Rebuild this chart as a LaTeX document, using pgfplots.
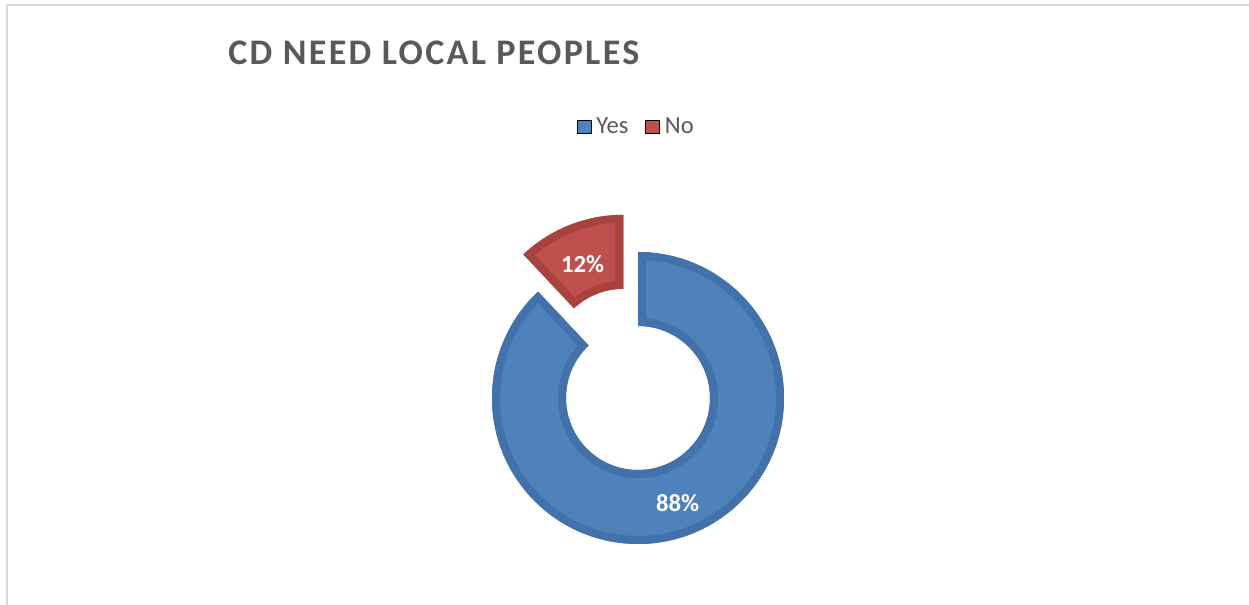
\documentclass[border=0pt]{standalone}
\usepackage{pgfplots}
\pgfplotsset{compat=1.18}
\usepackage{pgfplotstable}
\usepackage{fontspec}
\setmainfont{Carlito}
\newfontfamily\titlefont[LetterSpace=6.4]{Carlito}
\definecolor{yesfill}{HTML}{4F81BD}
\definecolor{yesedge}{HTML}{4371A9}
\definecolor{nofill}{HTML}{C0504D}
\definecolor{noedge}{HTML}{A8423F}
\definecolor{txtgray}{HTML}{595959}
\definecolor{framegray}{HTML}{D9D9D9}

\pgfplotstableread{
label value
Yes 88
No 12
}\piedata

% ring segment: cx, cy, start angle, end angle, back angle (end+180)
\newcommand\ringpath[5]{(axis cs:#1,#2) ++(#3:73pt) arc[start angle=#3,end angle=#4,radius=73pt] -- ++(#5:37pt) arc[start angle=#4,end angle=#3,radius=36pt] -- cycle}

\begin{document}
\begin{tikzpicture}
\useasboundingbox (0,0) rectangle (624.5pt,302.5pt);
\pgfplotstablegetelem{0}{value}\of\piedata \let\vYes\pgfplotsretval
\pgfplotstablegetelem{1}{value}\of\piedata \let\vNo\pgfplotsretval
\pgfmathsetmacro\aA{90}
\pgfmathsetmacro\aB{90-3.6*\vYes}
\pgfmathsetmacro\aBb{\aB+180}
\pgfmathsetmacro\aC{\aB-3.6*\vNo}
\pgfmathsetmacro\aCb{\aC+180}
\pgfmathsetmacro\aMid{(\aB+\aC)/2}
\pgfmathsetmacro\ncx{638+40*cos(\aMid)}
\pgfmathsetmacro\ncy{207+40*sin(\aMid)}
\begin{axis}[
  at={(0,0)}, anchor=south west,
  x=0.5pt, y=0.5pt,
  xmin=0, xmax=1249, ymin=0, ymax=605,
  enlargelimits=false, hide axis, clip=false,
  legend style={at={(axis cs:577,478)}, anchor=west, draw=none, fill=none,
    inner sep=0pt, outer sep=0pt, legend columns=-1,
    font=\fontsize{12.3}{14}\selectfont, text=txtgray,
    nodes={inner sep=2.5pt},
    /tikz/every even column/.append style={column sep=6pt}},
  legend image code/.code={\fill[#1] (0pt,-3.3pt) rectangle (6.8pt,3.3pt);},
]
\addlegendimage{fill=yesfill}
\addlegendentry{Yes}
\addlegendimage{fill=nofill}
\addlegendentry{No}

\draw[framegray, line width=1.3pt] (axis cs:7,0) -- (axis cs:7,600) -- (axis cs:1249,600);

% Yes segment
\fill[yesfill] \ringpath{638}{207}{\aA}{\aB}{\aBb};
\begin{scope}
\clip \ringpath{638}{207}{\aA}{\aB}{\aBb};
\draw[yesedge, line width=8pt] \ringpath{638}{207}{\aA}{\aB}{\aBb};
\end{scope}
% No segment (exploded)
\fill[nofill] \ringpath{\ncx}{\ncy}{\aB}{\aC}{\aCb};
\begin{scope}
\clip \ringpath{\ncx}{\ncy}{\aB}{\aC}{\aCb};
\draw[noedge, line width=8pt] \ringpath{\ncx}{\ncy}{\aB}{\aC}{\aCb};
\end{scope}

\node[font=\fontsize{12.3}{14}\selectfont\bfseries, text=white] at (axis cs:582.5,340.5) {\vNo\%};
\node[font=\fontsize{12.3}{14}\selectfont\bfseries, text=white] at (axis cs:677.5,101.5) {\vYes\%};

\node[anchor=base west, inner sep=0pt, font=\titlefont\fontsize{18}{22}\selectfont\bfseries, text=txtgray] at (axis cs:228,540) {CD NEED LOCAL PEOPLES};
\end{axis}
\end{tikzpicture}
\end{document}
